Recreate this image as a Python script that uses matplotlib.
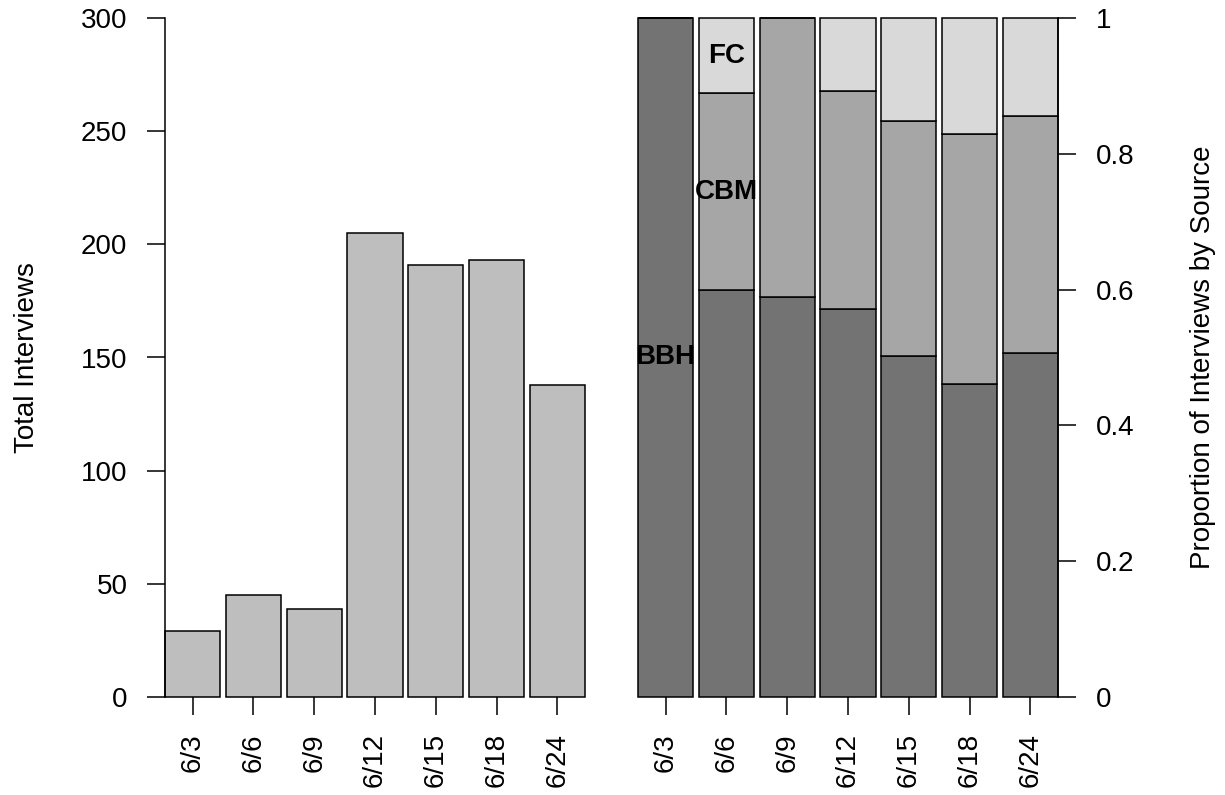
import numpy as np
import matplotlib.pyplot as plt

# interview counts by source for each date
dates = ['6/3', '6/6', '6/9', '6/12', '6/15', '6/18', '6/24']
bbh = [29, 27, 23, 117, 96, 89, 70]
cbm = [0, 13, 16, 66, 66, 71, 48]
fc = [0, 5, 0, 22, 29, 33, 20]

left_ticks = [0, 50, 100, 150, 200, 250, 300]
right_ticks = [0, 0.2, 0.4, 0.6, 0.8, 1]
right_tick_labels = ['0', '0.2', '0.4', '0.6', '0.8', '1']

plt.rcParams['font.family'] = ['Liberation Sans', 'DejaVu Sans']
plt.rcParams['font.size'] = 20

total = np.array(bbh) + np.array(cbm) + np.array(fc)
p_bbh = np.array(bbh) / total
p_cbm = np.array(cbm) / total
p_fc = np.array(fc) / total

W, H = 1225, 795
fig = plt.figure(figsize=(W / 100, H / 100), dpi=100)


def px_axes(x0, x1, y0, y1):
    return fig.add_axes([x0 / W, 1 - y1 / H, (x1 - x0) / W, (y1 - y0) / H])


ax1 = px_axes(165, 585, 18, 697)
ax2 = px_axes(638, 1058, 18, 697)

x = np.arange(len(dates))
bw = 1 / 1.1
edge = dict(edgecolor='black', linewidth=1.1, clip_on=False)

# ==============================
# Left: total interviews
# ==============================
ax1.bar(x, total, width=bw, color='#BEBEBE', **edge)
ax1.set_ylim(0, 300)
ax1.set_yticks(left_ticks)

# ==============================
# Right: proportion by source
# ==============================
ax2.bar(x, p_bbh, width=bw, color='#737373', **edge)
ax2.bar(x, p_cbm, width=bw, bottom=p_bbh, color='#A6A6A6', **edge)
ax2.bar(x, p_fc, width=bw, bottom=p_bbh + p_cbm, color='#D9D9D9', **edge)
ax2.set_ylim(0, 1)
ax2.yaxis.tick_right()
ax2.set_yticks(right_ticks)
ax2.set_yticklabels(right_tick_labels)

ax2.text(0, p_bbh[0] / 2, 'BBH', fontweight='bold', ha='center', va='center')
ax2.text(1, p_bbh[1] + p_cbm[1] / 2, 'CBM', fontweight='bold', ha='center', va='center')
ax2.text(1, 1 - p_fc[1] / 2, 'FC', fontweight='bold', ha='center', va='center')

for ax in (ax1, ax2):
    ax.set_xlim(-bw / 2, len(dates) - 1 + bw / 2)
    ax.set_xticks(x)
    ax.set_xticklabels(dates, rotation=90)
    ax.tick_params(axis='x', length=13, width=1.1, pad=13)
    ax.tick_params(axis='y', length=13, width=1.1, pad=14)
    for side in ('top', 'bottom', 'left', 'right'):
        ax.spines[side].set_visible(False)
        ax.spines[side].set_linewidth(1.1)

ax1.spines['left'].set_visible(True)
ax2.spines['right'].set_visible(True)

fig.text(27 / W, 1 - 357.5 / H, 'Total Interviews', rotation=90, ha='center', va='center')
fig.text(1203 / W, 1 - 357.5 / H, 'Proportion of Interviews by Source',
         rotation=90, ha='center', va='center')

fig.savefig('out.png', dpi=100)
